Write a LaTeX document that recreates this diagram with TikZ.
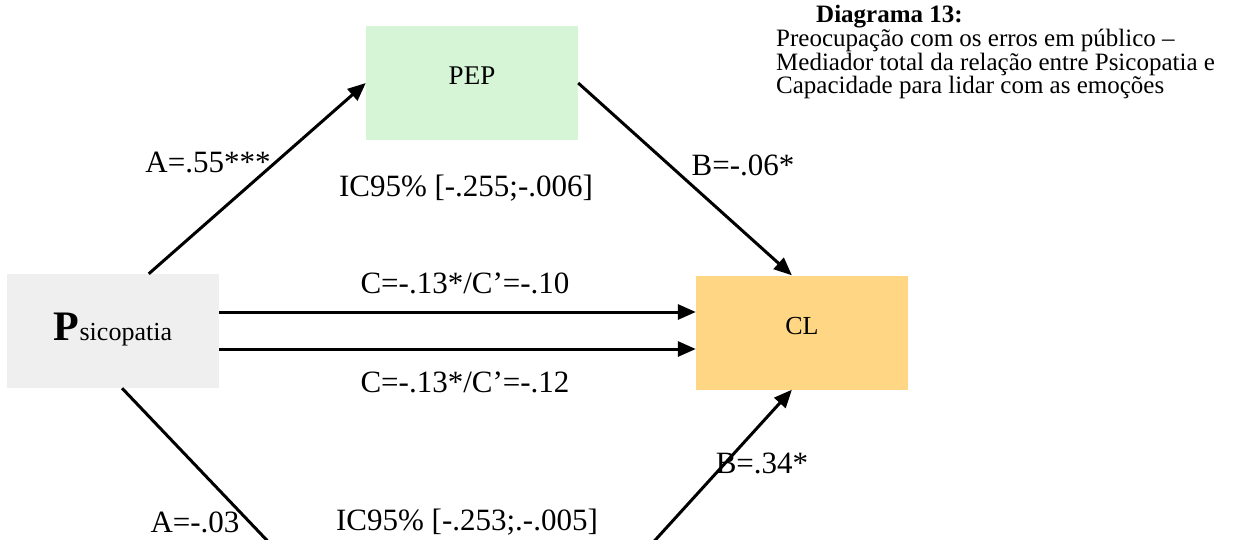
\documentclass[tikz,border=0pt]{standalone}
\usepackage{fontspec}
\setmainfont{Liberation Serif}
\usepackage{xcolor}
\usetikzlibrary{arrows.meta,positioning,calc}
\definecolor{pepgreen}{RGB}{214,245,214}
\definecolor{clorange}{RGB}{254,214,132}
\definecolor{psigray}{RGB}{239,239,239}
\tikzset{
  box/.style={minimum width=212pt, minimum height=114pt, inner sep=0pt, align=center},
  predictor/.style={box, fill=psigray},
  mediator/.style={box, fill=pepgreen, font=\fontsize{27}{30}\selectfont},
  outcome/.style={box, fill=clorange, font=\fontsize{26}{30}\selectfont},
  lbl/.style={font=\fontsize{31}{34}\selectfont, inner sep=0pt},
  edge/.style={-{Triangle[length=18pt,width=15pt]}, line width=3pt},
  plain/.style={line width=3pt}
}

\begin{document}
\begin{tikzpicture}[x=1pt, y=-1pt]
  \useasboundingbox (0,0) rectangle (1255,539);
  \clip (0,0) rectangle (1255,539);

  % boxes
  \node[predictor] (psi) at (113,331)
    {\raisebox{8pt}{{\fontsize{42}{44}\selectfont\bfseries P}{\fontsize{26}{30}\selectfont sicopatia}}};
  \node[mediator] (pep) at (472,83) {\raisebox{15pt}{PEP}};
  \node[outcome] (cl) at (802,332.5) {\raisebox{13pt}{CL}};

  % the second mediator lies below the cut
  \coordinate (medw) at (400,680);
  \coordinate (mede) at (528,680);

  % paths
  \draw[edge] (psi.58) -- (pep.west);
  \draw[edge] (pep.east) -- (cl.100);
  \draw[edge] ([yshift=19pt]psi.east) -- ([yshift=19pt]psi.east -| cl.west);
  \draw[edge] ([yshift=-18pt]psi.east) -- ([yshift=-18pt]psi.east -| cl.west);
  \draw[plain] (psi.-81) -- (medw);
  \draw[edge] (mede) -- (cl.-100);

  % coefficients
  \node[lbl] (a1) at (208,162) {A=.55***};
  \node[lbl] (ic1) at (466,188) {IC95\% [-.255;-.006]};
  \node[lbl] (b1) at (743,165) {B=-.06*};
  \node[lbl] (c1) at (465,283) {C=-.13*/C’=-.10};
  \node[lbl] (c2) at (465,382) {C=-.13*/C’=-.12};
  \node[lbl] (a2) at (195,522) {A=-.03};
  \node[lbl] (ic2) at (467,522) {IC95\% [-.253;.-.005]};
  \node[lbl] (b2) at (762,463) {B=.34*};

  % caption
  \node[anchor=north west, align=left, inner sep=0pt,
        font=\fontsize{25}{22.5}\selectfont] (title) at (776,5)
    {\hspace*{40pt}\textbf{Diagrama 13:}\\
     Preocupação com os erros em público –\\
     Mediador total da relação entre Psicopatia e\\
     Capacidade para lidar com as emoções};
\end{tikzpicture}
\end{document}
